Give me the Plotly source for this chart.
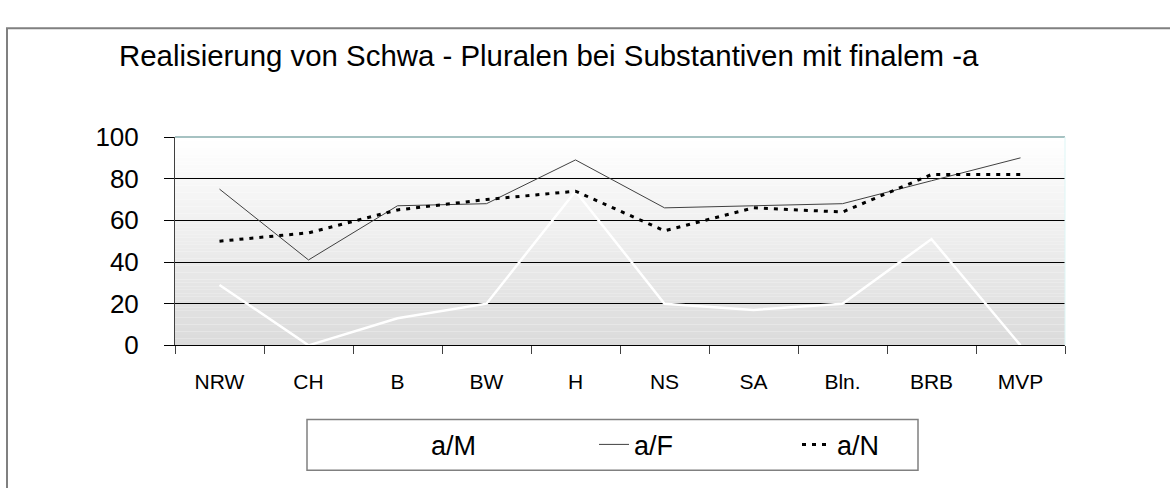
import plotly.graph_objects as go

categories = ["NRW", "CH", "B", "BW", "H", "NS", "SA", "Bln.", "BRB", "MVP"]
a_M = [29, 0, 13, 20, 74, 20, 17, 20, 51, 0]
a_F = [75, 41, 67, 68, 89, 66, 67, 68, 79, 90]
a_N = [50, 54, 65, 70, 74, 55, 66, 64, 82, 82]
y_ticks = [0, 20, 40, 60, 80, 100]
title_text = "Realisierung von Schwa - Pluralen bei Substantiven mit finalem -a"

W, H = 1170, 488
FONT = "Liberation Sans, Arial, sans-serif"

def px_x(x):
    return x / W

def px_y(y):
    return (H - y) / H

fig = go.Figure()
fig.add_trace(go.Scatter(x=categories, y=a_M, name="a/M", mode="lines",
                         line=dict(color="white", width=2.5)))
fig.add_trace(go.Scatter(x=categories, y=a_F, name="a/F", mode="lines",
                         line=dict(color="#404040", width=1)))
fig.add_trace(go.Scatter(x=categories, y=a_N, name="a/N", mode="lines",
                         line=dict(color="black", width=3, dash="4px,6px")))

shapes = []
# gradient plot background
n = 60
for i in range(n):
    t = i / (n - 1)
    c = int(round(255 - (255 - 219) * (1 - t)))
    shapes.append(dict(type="rect", xref="x domain", yref="y domain",
                       x0=0, x1=1, y0=i / n, y1=(i + 1) / n,
                       fillcolor=f"rgb({c},{c},{c})", line=dict(width=0),
                       layer="below"))
# plot area top & right border
shapes.append(dict(type="line", xref="x domain", yref="y domain", x0=0, x1=1,
                   y0=1, y1=1, line=dict(color="#A6C2C2", width=2), layer="above"))
shapes.append(dict(type="line", xref="x domain", yref="y domain", x0=1, x1=1,
                   y0=0, y1=1, line=dict(color="#DDF6F6", width=1), layer="above"))
# outer chart border
shapes.append(dict(type="rect", xref="paper", yref="paper",
                   x0=px_x(7), x1=1.05, y0=-0.05, y1=px_y(14),
                   line=dict(color="#808080", width=2), fillcolor="rgba(0,0,0,0)"))
# legend box
shapes.append(dict(type="rect", xref="paper", yref="paper",
                   x0=px_x(307), x1=px_x(918), y0=px_y(485), y1=px_y(431),
                   line=dict(color="#808080", width=1.5), fillcolor="white"))
fig.update_layout(shapes=shapes)

fig.add_annotation(text=title_text, xref="paper", yref="paper",
                   x=px_x(117), y=px_y(43), xanchor="left", yanchor="middle",
                   showarrow=False, font=dict(family=FONT, size=29.4, color="black"))

fig.update_layout(
    width=W, height=H,
    margin=dict(l=0, r=0, t=0, b=0),
    paper_bgcolor="white",
    plot_bgcolor="rgba(0,0,0,0)",
    font=dict(family=FONT, color="black"),
    showlegend=True,
    legend=dict(orientation="h", x=px_x(391), y=px_y(458), xanchor="left",
                yanchor="middle", bgcolor="rgba(0,0,0,0)", borderwidth=0,
                font=dict(family=FONT, size=27, color="black"),
                itemwidth=30, entrywidth=158, entrywidthmode="pixels"),
    xaxis=dict(domain=[px_x(175), px_x(1065)], range=[-0.5, 9.5],
               type="category", showgrid=False, zeroline=False,
               showline=True, linecolor="black", linewidth=1,
               ticks="outside", ticklen=8, tickcolor="#404040", tickwidth=1,
               tickson="boundaries", ticklabelstandoff=17,
               tickfont=dict(family=FONT, size=21, color="black")),
    yaxis=dict(domain=[px_y(352), px_y(130)], range=[0, 100],
               tickvals=y_ticks, showgrid=True, gridcolor="black", gridwidth=1,
               zeroline=False, showline=True, linecolor="#404040", linewidth=1,
               ticks="outside", ticklen=10, tickcolor="black",
               ticklabelstandoff=20,
               tickfont=dict(family=FONT, size=26, color="black")),
)

fig.write_html("out.html", config={"displayModeBar": False},
               post_script="document.body.style.margin='0';")
